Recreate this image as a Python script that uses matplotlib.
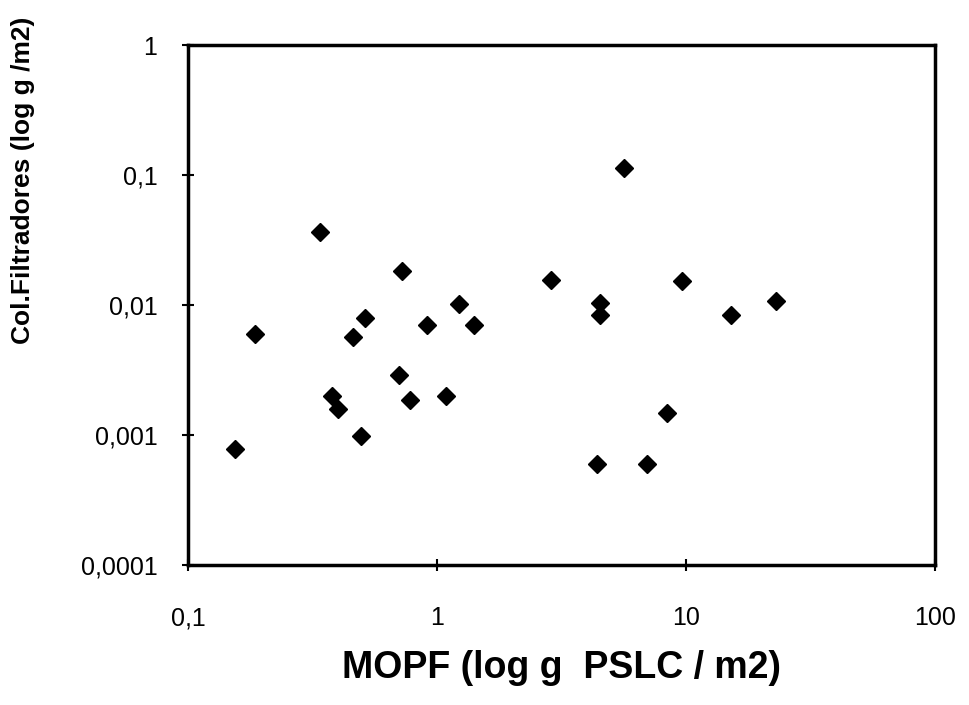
import matplotlib
matplotlib.use("Agg")
import matplotlib.pyplot as plt
import matplotlib.ticker as ticker

# MOPF (g PSLC / m2) vs collectors-filterers (g / m2)
mopf = [0.154, 0.186, 0.340, 0.380, 0.399, 0.459, 0.512, 0.496, 0.706, 0.725,
        0.781, 0.913, 1.09, 1.22, 1.41, 2.88, 4.38, 4.52, 4.51, 5.66,
        6.94, 8.40, 9.61, 15.1, 22.9]
filtradores = [0.00078, 0.0060, 0.0365, 0.0020, 0.00157, 0.0057, 0.0080, 0.00098, 0.0029, 0.0183,
               0.00185, 0.0070, 0.0020, 0.0101, 0.0070, 0.0155, 0.00060, 0.0103, 0.0084, 0.114,
               0.00060, 0.00148, 0.0153, 0.0084, 0.0108]

x_ticks = [0.1, 1, 10, 100]
y_ticks = [0.0001, 0.001, 0.01, 0.1, 1]

plt.rcParams['font.family'] = ['Liberation Sans', 'DejaVu Sans']

fig = plt.figure(figsize=(9.69, 7.05), dpi=100)
ax = fig.add_axes([0.194, 0.199, 0.771, 0.737])

ax.plot(mopf, filtradores, linestyle='none', marker='D', markersize=9,
        color='black')

ax.set_xscale('log')
ax.set_yscale('log')
ax.set_xlim(0.1, 100)
ax.set_ylim(0.0001, 1)
ax.set_xticks(x_ticks)
ax.set_yticks(y_ticks)
ax.xaxis.set_minor_locator(ticker.NullLocator())
ax.yaxis.set_minor_locator(ticker.NullLocator())

comma = ticker.FuncFormatter(lambda v, _: f'{v:g}'.replace('.', ','))
ax.xaxis.set_major_formatter(comma)
ax.yaxis.set_major_formatter(comma)

ax.tick_params(axis='both', direction='inout', length=8, width=1.5,
               labelsize=18)
ax.tick_params(axis='x', pad=26)
ax.tick_params(axis='y', pad=18)

for spine in ax.spines.values():
    spine.set_linewidth(2.5)

ax.set_xlabel('MOPF (log g  PSLC / m2)', fontsize=27, fontweight='bold',
              labelpad=14)
ax.set_ylabel('Col.Filtradores (log g /m2)', fontsize=19, fontweight='bold')
ax.yaxis.set_label_coords(-0.205, 0.74)

fig.savefig('out.png', dpi=100)
